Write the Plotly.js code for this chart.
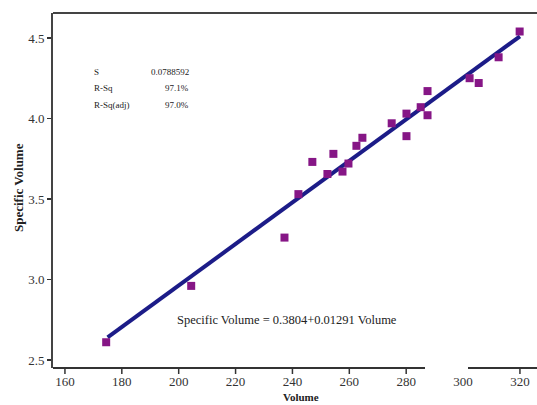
<!DOCTYPE html>
<html><head><meta charset="utf-8">
<script src="https://cdn.plot.ly/plotly-3.0.1.min.js"></script>
<style>html,body{margin:0;padding:0;background:#fff;overflow:hidden}</style>
</head><body>
<div id="chart" style="width:537px;height:405px"></div>
<script>
const volume = [174.5, 204.4, 237.2, 242.1, 247.0, 252.3, 254.4, 257.6, 259.7, 262.5, 264.6, 274.9, 280.1, 280.1, 285.1, 287.5, 287.5, 302.3, 305.5, 312.5, 319.9];
const specificVolume = [2.61, 2.96, 3.26, 3.53, 3.73, 3.655, 3.78, 3.67, 3.72, 3.83, 3.88, 3.97, 4.03, 3.89, 4.07, 4.17, 4.02, 4.25, 4.22, 4.38, 4.54];
const fitX = [175, 320];
const fitY = [2.64, 4.51];
const xTicks = [160, 180, 200, 220, 240, 260, 280, 300, 320];
const xTickMarks = [160, 180, 200, 220, 240, 260, 280, 320];
const yTicks = [2.5, 3.0, 3.5, 4.0, 4.5];
const statLabels = ["S", "R-Sq", "R-Sq(adj)"];
const statValues = ["0.0788592", "97.1%", "97.0%"];
const equation = "Specific Volume = 0.3804+0.01291 Volume";

const serif = "Liberation Serif, Times New Roman, serif";
const traces = [
  {x: fitX, y: fitY, mode: "lines", line: {color: "#1c1c88", width: 4}, hoverinfo: "skip"},
  {x: volume, y: specificVolume, mode: "markers", marker: {symbol: "square", size: 8, color: "#861686"}}
];
const ann = [];
statLabels.forEach((t, i) => {
  ann.push({xref: "paper", yref: "paper", x: (92-53)/484, y: 1-(72+i*16.5-13)/355, xanchor: "left", yanchor: "middle", text: t, showarrow: false, font: {family: serif, size: 9, color: "#222"}});
  ann.push({xref: "paper", yref: "paper", x: (191-53)/484, y: 1-(72+i*16.5-13)/355, xanchor: "right", yanchor: "middle", text: statValues[i], showarrow: false, font: {family: serif, size: 9, color: "#222"}});
});
ann.push({xref: "paper", yref: "paper", x: (287-53)/484, y: 1-(320-13)/355, xanchor: "center", yanchor: "middle", text: equation, showarrow: false, font: {family: serif, size: 12.5, color: "#222"}});
ann.push({xref: "paper", yref: "paper", x: (301-53)/484, y: -(397-368)/355, xanchor: "center", yanchor: "middle", text: "<b>Volume</b>", showarrow: false, font: {family: serif, size: 11, color: "#222"}});
ann.push({xref: "paper", yref: "paper", x: -(53-18)/484, y: 1-(188-13)/355, xanchor: "center", yanchor: "middle", text: "<b>Specific Volume</b>", textangle: -90, showarrow: false, font: {family: serif, size: 13, color: "#222"}});

const shapes = [
  {type: "line", xref: "paper", yref: "paper", x0: 0, x1: 1, y0: 1, y1: 1, line: {color: "#444", width: 2}},
  {type: "line", xref: "paper", yref: "paper", x0: 0, x1: (425-53)/484, y0: 0, y1: 0, line: {color: "#333", width: 2}},
  {type: "line", xref: "paper", yref: "paper", x0: (468-53)/484, x1: 1, y0: 0, y1: 0, line: {color: "#333", width: 2}}
];
xTickMarks.forEach(v => shapes.push({type: "line", xref: "x", yref: "paper", x0: v, x1: v, y0: 0, y1: -6/355, line: {color: "#333", width: 1.5}}));

const layout = {
  width: 537, height: 405,
  margin: {l: 53, r: 0, t: 13, b: 37},
  paper_bgcolor: "#fff", plot_bgcolor: "#fff",
  showlegend: false,
  xaxis: {range: [155.8, 326], tickvals: xTicks, ticktext: xTicks.map(String), ticks: "outside", ticklen: 1, tickcolor: "rgba(0,0,0,0)", showline: false, showgrid: false, zeroline: false, tickfont: {family: serif, size: 13, color: "#333"}},
  yaxis: {range: [2.45, 4.655], tickvals: yTicks, ticktext: yTicks.map(v => v.toFixed(1)), ticks: "outside", ticklen: 4, tickwidth: 1.5, tickcolor: "#333", showline: true, linecolor: "#444", linewidth: 2, showgrid: false, zeroline: false, tickfont: {family: serif, size: 13, color: "#333"}},
  shapes: shapes,
  annotations: ann
};
Plotly.newPlot("chart", traces, layout, {staticPlot: true, displayModeBar: false});
</script>
</body></html>
